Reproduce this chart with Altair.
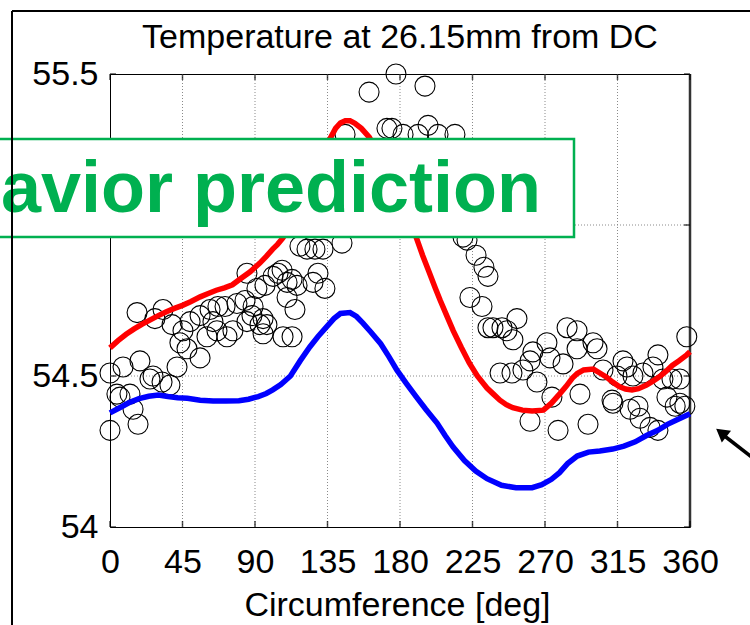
import altair as alt
import pandas as pd

# ---------------- data ----------------
x_ticks = [0, 45, 90, 135, 180, 225, 270, 315, 360]
y_ticks = [54, 54.5, 55, 55.5]
x_grid = [45, 90, 135, 180, 225, 270, 315]
y_grid = [54.5, 55]

TITLE = "Temperature at 26.15mm from DC"
XTITLE = "Circumference [deg]"
BANNER = "avior prediction"

meas_deg = [
    177.5, 160.8, 195.5, 171.9, 175.0, 181.9, 191.2, 197.4, 203.6, 214.1, 145.9,
    117.9, 122.3, 127.2, 132.2, 144.0, 219.1, 221.6, 227.2, 232.1, 234.6, 223.4,
    230.9, 234.6, 237.7, 243.3, 246.4, 250.1, 252.6,
    0.0, 0.0, 16.8, 27.9, 32.9, 8.1, 18.6, 26.7, 32.3, 37.2, 41.6, 4.3, 6.2, 12.4,
    14.3, 17.4, 24.8, 38.5, 45.3, 43.4, 47.8, 55.9, 49.7, 55.9, 62.1, 67.0, 60.2,
    66.4, 72.6, 76.3, 78.8, 85.0, 91.2, 88.8, 95.0, 97.4, 107.4, 101.2, 106.8,
    109.9, 109.9, 114.8, 71.4, 63.9, 104.3, 113.0, 129.1, 126.0, 133.4, 96.2, 83.8,
    88.1, 85.0, 93.1, 95.0, 116.1, 113.0,
    262.5, 260.7, 256.3, 242.1, 249.5, 265.0, 271.2, 273.1, 281.2, 274.3, 283.7,
    289.9, 289.9, 299.8, 302.3, 291.7, 260.7, 278.1, 296.7, 306.0, 312.2, 314.7,
    318.4, 320.9, 324.6, 330.8, 340.1, 343.2, 348.8, 353.7, 322.8, 327.7, 329.0,
    335.2, 340.1, 345.7, 350.8, 353.7, 358.0, 337.0, 311.6, 356.8,
]
meas_temp = [
    55.50, 55.44, 55.46, 55.32, 55.32, 55.30, 55.30, 55.33, 55.30, 55.30, 55.30,
    54.93, 54.92, 54.92, 54.92, 54.94, 54.96, 54.95, 54.90, 54.86, 54.83, 54.76,
    54.73, 54.66, 54.66, 54.66, 54.65, 54.62, 54.69,
    54.51, 54.32, 54.71, 54.69, 54.72, 54.53, 54.55, 54.50, 54.48, 54.47, 54.53,
    54.44, 54.43, 54.44, 54.39, 54.34, 54.49, 54.67, 54.65, 54.61, 54.59, 54.56,
    54.68, 54.70, 54.72, 54.73, 54.63, 54.65, 54.63, 54.65, 54.74, 54.84, 54.79,
    54.73, 54.69, 54.67, 54.63, 54.83, 54.85, 54.81, 54.76, 54.72, 54.73, 54.68,
    54.84, 54.82, 54.84, 54.81, 54.79, 54.80, 54.75, 54.70, 54.68, 54.67, 54.64,
    54.80, 54.63,
    54.58, 54.55, 54.52, 54.51, 54.51, 54.48, 54.61, 54.56, 54.54, 54.43, 54.66,
    54.65, 54.59, 54.61, 54.59, 54.44, 54.35, 54.32, 54.34, 54.52, 54.41, 54.50,
    54.55, 54.53, 54.50, 54.51, 54.57, 54.49, 54.49, 54.49, 54.39, 54.40, 54.36,
    54.33, 54.32, 54.43, 54.40, 54.41, 54.63, 54.53, 54.42, 54.40,
]

red_deg = [0, 5, 10, 15, 20, 25, 30, 35, 40, 45, 50, 56, 61, 66, 71, 76, 81, 87, 93,
           97, 101, 104, 107, 111, 115, 120, 125, 131, 136, 140, 143, 146, 149, 152,
           156, 161, 166, 172, 178, 184, 190, 194, 198, 202, 205, 209, 213, 218, 223,
           228, 234, 238, 242, 246, 250, 256, 262, 269, 274, 279, 283, 287, 290, 294,
           300, 304, 308, 312, 316, 320, 324, 328, 333, 337, 341, 345, 349, 353, 358, 360]
red_temp = [54.593, 54.617, 54.638, 54.656, 54.672, 54.686, 54.700, 54.713, 54.724,
            54.734, 54.746, 54.762, 54.773, 54.784, 54.792, 54.802, 54.822, 54.845,
            54.874, 54.896, 54.920, 54.936, 54.955, 54.985, 55.02, 55.07, 55.13, 55.21,
            55.28, 55.32, 55.338, 55.345, 55.345, 55.337, 55.32, 55.29, 55.24, 55.17,
            55.10, 55.03, 54.96, 54.90, 54.845, 54.79, 54.75, 54.70, 54.65, 54.595,
            54.543, 54.50, 54.46, 54.44, 54.42, 54.405, 54.395, 54.387, 54.384, 54.387,
            54.41, 54.44, 54.465, 54.493, 54.508, 54.52, 54.523, 54.51, 54.497, 54.48,
            54.465, 54.457, 54.454, 54.458, 54.47, 54.483, 54.497, 54.515, 54.535,
            54.55, 54.57, 54.58]

blue_deg = [0, 6, 12, 18, 24, 30, 36, 42, 48, 56, 64, 72, 80, 86, 92, 97, 101, 106, 112,
            118, 124, 129, 134, 139, 143, 149, 153, 157, 162, 168, 173, 178, 184, 190,
            196, 203, 208, 213, 220, 227, 234, 243, 252, 262, 268, 274, 279, 284, 290,
            297, 304, 312, 319, 326, 333, 340, 346, 352, 358, 360]
blue_temp = [54.378, 54.395, 54.412, 54.425, 54.433, 54.437, 54.432, 54.428, 54.426,
             54.42, 54.417, 54.417, 54.418, 54.423, 54.432, 54.442, 54.454, 54.472, 54.50,
             54.55, 54.596, 54.63, 54.66, 54.69, 54.707, 54.71, 54.697, 54.675, 54.645,
             54.607, 54.565, 54.52, 54.475, 54.432, 54.39, 54.344, 54.303, 54.265, 54.22,
             54.185, 54.16, 54.138, 54.13, 54.13, 54.14, 54.158, 54.18, 54.21, 54.235,
             54.248, 54.252, 54.258, 54.268, 54.282, 54.303, 54.32, 54.34, 54.355,
             54.37, 54.375]

# ---------------- tables ----------------
meas_df = pd.DataFrame({"deg": meas_deg, "temp": meas_temp})
red_df = pd.DataFrame({"deg": red_deg, "temp": red_temp})
blue_df = pd.DataFrame({"deg": blue_deg, "temp": blue_temp})
xgrid_df = pd.DataFrame({"deg": x_grid})
ygrid_df = pd.DataFrame({"temp": y_grid})
xt_df = pd.DataFrame({"deg": x_ticks})
yt_df = pd.DataFrame({"temp": y_ticks})
right_df = pd.DataFrame({"deg": [x_ticks[-1]]})
one = pd.DataFrame({"a": [0]})

FONT = "Liberation Sans"
FS = 34
W, H = 580, 453

xs = alt.Scale(domain=[0, 360], nice=False, zero=False)
ys = alt.Scale(domain=[54, 55.5], nice=False, zero=False)

xaxis = alt.Axis(values=x_ticks, format="d", title=XTITLE, grid=False, domain=False,
                 ticks=False, tickSize=0, labelFontSize=FS, labelFont=FONT,
                 labelColor="black", labelPadding=18, labelFlush=False,
                 labelOverlap=False, titleFont=FONT, titleFontSize=FS,
                 titleFontWeight="normal", titleColor="black", titleY=88, titleX=287,
                 titleAlign="center", titleBaseline="alphabetic", zindex=0)
yaxis = alt.Axis(values=y_ticks, format=".1~f", title=None, grid=False, domain=False,
                 ticks=False, tickSize=0, labelFontSize=FS, labelFont=FONT,
                 labelColor="black", labelPadding=12, labelFlush=False,
                 labelOverlap=False, zindex=0)

X = alt.X("deg:Q", scale=xs, axis=xaxis)
Y = alt.Y("temp:Q", scale=ys, axis=yaxis)

grid_v = alt.Chart(xgrid_df).mark_rule(color="#8a8a8a", strokeWidth=1, strokeDash=[1, 2]).encode(x=X)
grid_h = alt.Chart(ygrid_df).mark_rule(color="#8a8a8a", strokeWidth=1, strokeDash=[1, 2]).encode(y=Y)
right_border = alt.Chart(right_df).mark_rule(color="#333333", strokeWidth=2.5).encode(x=X)

ticks_b = alt.Chart(xt_df).mark_tick(color="black", thickness=1.5, size=6, orient="vertical").encode(x=X, y=alt.value(H - 3))
ticks_t = alt.Chart(xt_df).mark_tick(color="black", thickness=1.5, size=6, orient="vertical").encode(x=X, y=alt.value(3))
ticks_l = alt.Chart(yt_df).mark_tick(color="black", thickness=1.5, size=6, orient="horizontal").encode(y=Y, x=alt.value(3))
ticks_r = alt.Chart(yt_df).mark_tick(color="black", thickness=1.5, size=6, orient="horizontal").encode(y=Y, x=alt.value(W - 3))

points = alt.Chart(meas_df).mark_point(shape="circle", filled=False, size=400, stroke="black",
                                       strokeWidth=1.1, opacity=1).encode(x=X, y=Y)
red_line = alt.Chart(red_df).mark_line(color="#ff0000", strokeWidth=5.5).encode(x=X, y=Y, order="deg:Q")
blue_line = alt.Chart(blue_df).mark_line(color="#0000ff", strokeWidth=5.5).encode(x=X, y=Y, order="deg:Q")

banner_box = alt.Chart(one).mark_rect(fill="white", stroke="#00b050", strokeWidth=2.5).encode(
    x=alt.value(-140), x2=alt.value(464), y=alt.value(65), y2=alt.value(163))
banner_text = alt.Chart(one).mark_text(text=BANNER, font=FONT, fontWeight="bold", fontSize=72,
                                       color="#00b050", align="right", baseline="alphabetic").encode(
    x=alt.value(431), y=alt.value(138))

title_text = alt.Chart(one).mark_text(text=TITLE, font=FONT, fontSize=FS, color="black",
                                      align="center", baseline="alphabetic").encode(
    x=alt.value(290), y=alt.value(-26))

frame_v = alt.Chart(one).mark_rule(color="black", strokeWidth=2).encode(
    x=alt.value(-98), y=alt.value(-63), y2=alt.value(H + 120))
frame_h = alt.Chart(one).mark_rule(color="black", strokeWidth=2).encode(
    x=alt.value(-98), x2=alt.value(W + 120), y=alt.value(-63))

arrow_line = alt.Chart(one).mark_rule(color="black", strokeWidth=3.5).encode(
    x=alt.value(612), y=alt.value(360), x2=alt.value(648), y2=alt.value(388))
arrow_head = alt.Chart(one).mark_point(shape="triangle", filled=True, size=225, angle=308,
                                       color="black", opacity=1).encode(
    x=alt.value(613), y=alt.value(360))

chart = alt.layer(
    grid_v, grid_h, right_border, points, red_line, blue_line,
    ticks_b, ticks_t, ticks_l, ticks_r,
    banner_box, banner_text, title_text, frame_v, frame_h, arrow_line, arrow_head,
).properties(
    width=W, height=H,
    autosize=alt.AutoSizeParams(type="none"),
    padding={"left": 110, "top": 74, "right": 60, "bottom": 98},
    background="white",
).configure_view(stroke="black", strokeWidth=1, fill="white")

chart.save("out.html", embed_options={"renderer": "svg", "actions": False})
